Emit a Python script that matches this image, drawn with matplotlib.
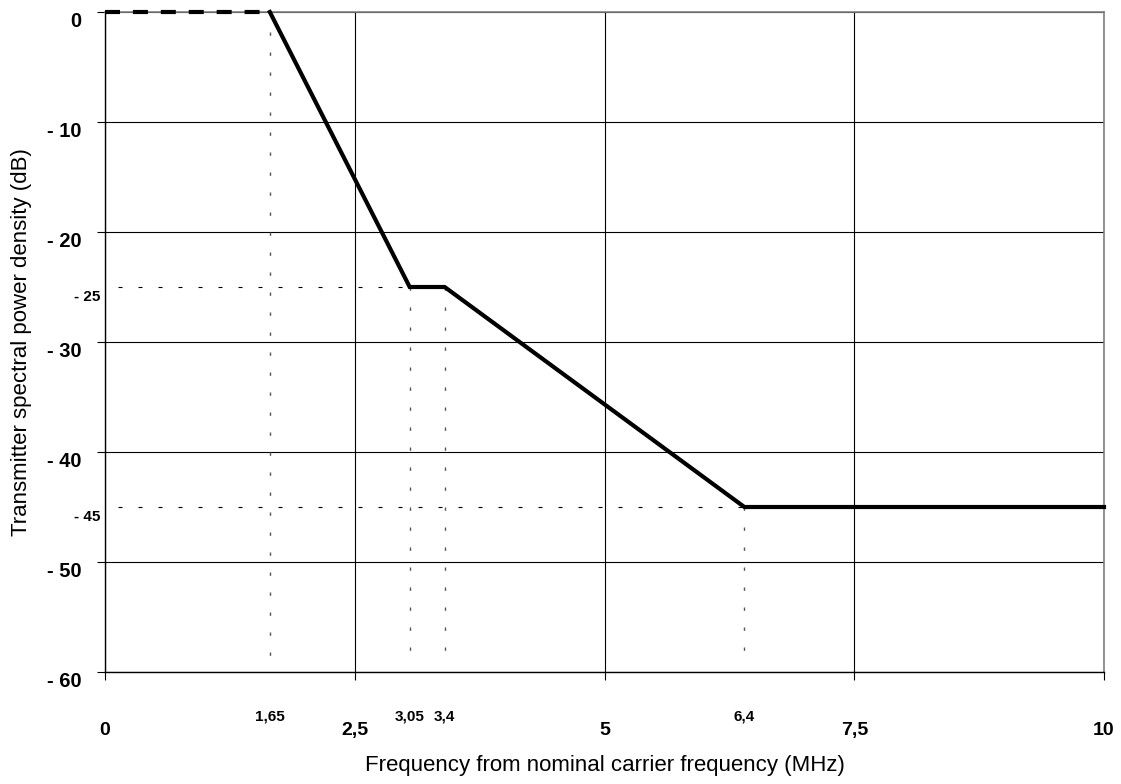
import matplotlib
matplotlib.use("Agg")
import matplotlib.pyplot as plt

# ---- data ----
freq_flat = [0, 1.65]
level_flat = [0, 0]
freq_mask = [1.65, 3.05, 3.4, 6.4, 10]
level_mask = [0, -25, -25, -45, -45]

x_major = [0, 2.5, 5, 7.5, 10]
x_major_labels = ["0", "2,5", "5", "7,5", "10"]
y_major = [0, -10, -20, -30, -40, -50, -60]
y_major_labels = ["0", "- 10", "- 20", "- 30", "- 40", "- 50", "- 60"]

x_marks = [1.65, 3.05, 3.4, 6.4]
x_mark_labels = ["1,65", "3,05", "3,4", "6,4"]
x_mark_levels = [0, -25, -25, -45]
y_marks = [-25, -45]
y_mark_labels = ["- 25", "- 45"]
y_mark_ends = [3.05, 6.4]

plt.rcParams['font.family'] = ['Liberation Sans', 'DejaVu Sans']

fig = plt.figure(figsize=(11.21, 7.84), dpi=100)
ax = fig.add_axes([105/1121, 1 - 672/784, (1104-105)/1121, (672-12)/784])
ax.set_xlim(0, 10)
ax.set_ylim(-60, 0)

# grid
ax.set_xticks(x_major)
ax.set_yticks(y_major)
ax.set_xticklabels(x_major_labels, fontweight='bold', fontsize=14)
ax.set_yticklabels(y_major_labels, fontweight='bold', fontsize=14.5)
ax.grid(True, color='black', linewidth=0.8)
ax.set_axisbelow(True)
ax.tick_params(axis='both', direction='out', length=6, width=0.8, color='black')
ax.tick_params(axis='x', pad=30)
ax.tick_params(axis='y', pad=11)
for lab in ax.get_yticklabels():
    lab.set_va('top')

for side in ['left', 'bottom']:
    ax.spines[side].set_color('black')
    ax.spines[side].set_linewidth(1.0)
for side in ['right', 'top']:
    ax.spines[side].set_color('#808080')
    ax.spines[side].set_linewidth(1.2)

# reference dotted lines
dot_bottom = -59.5
for xv, yv in zip(x_marks, x_mark_levels):
    ax.plot([xv, xv], [yv, dot_bottom], color='#555555', linewidth=1.0,
            dashes=(2.4, 12), zorder=2)
for yv, xe in zip(y_marks, y_mark_ends):
    ax.plot([0.13, xe], [yv, yv], color='black', linewidth=0.8,
            dashes=(3.6, 14.4), zorder=2)

# mask line
ax.plot(freq_flat, level_flat, color='black', linewidth=3, dashes=(3.6, 3.1),
        solid_capstyle='butt', clip_on=False, zorder=4)
ax.plot(freq_mask, level_mask, color='black', linewidth=3, clip_on=False,
        solid_joinstyle='miter', zorder=4)

# small labels
for xv, lab in zip(x_marks, x_mark_labels):
    ax.annotate(lab, xy=(xv, -60), xytext=(0, -32), textcoords='offset points',
                ha='center', va='center', fontsize=11, fontweight='bold',
                annotation_clip=False)
for yv, lab in zip(y_marks, y_mark_labels):
    ax.annotate(lab, xy=(0, yv), xytext=(-3.5, -7.5), textcoords='offset points',
                ha='right', va='center', fontsize=11, fontweight='bold',
                annotation_clip=False)

ax.set_xlabel("Frequency from nominal carrier frequency (MHz)", fontsize=16)
ax.set_ylabel("Transmitter spectral power density (dB)", fontsize=16)
ax.xaxis.set_label_coords(0.5, -0.125)
ax.yaxis.set_label_coords(-0.073, 0.5)

fig.savefig("out.png", dpi=100)
